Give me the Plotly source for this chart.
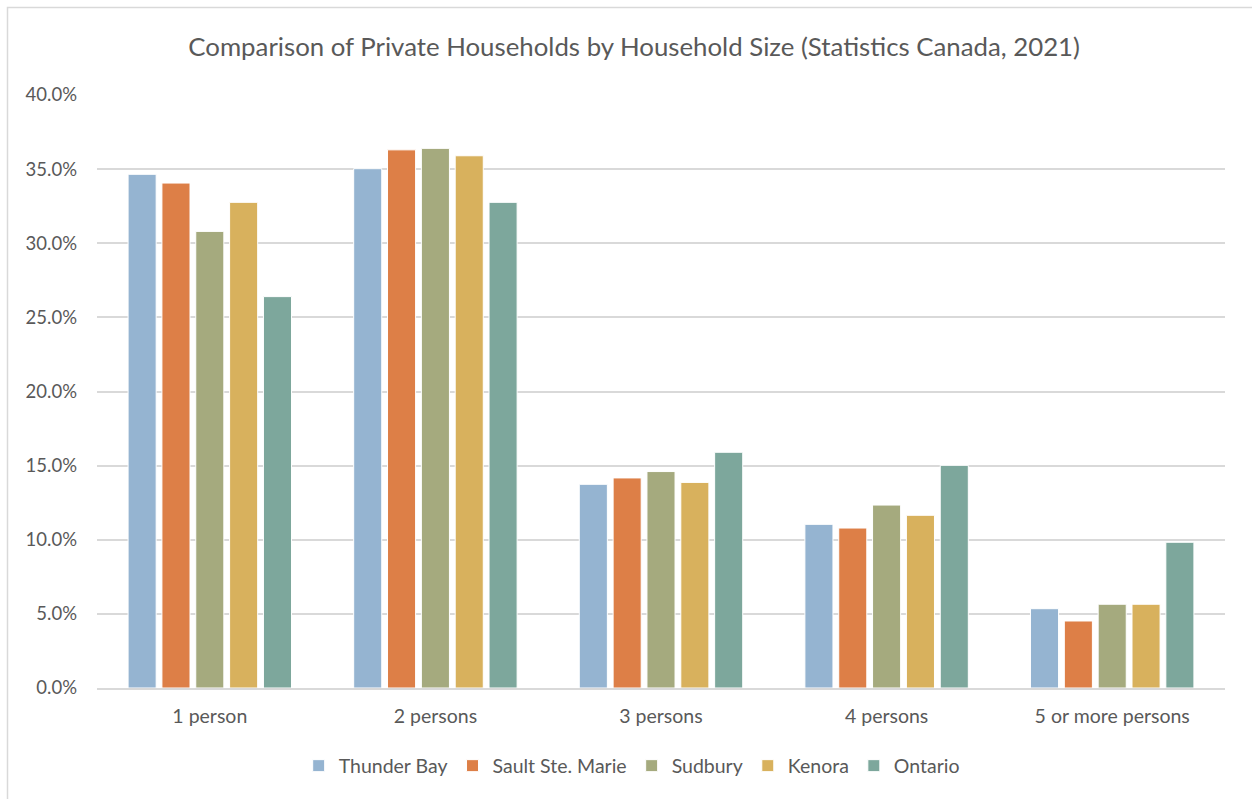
import plotly.graph_objects as go

categories = ["1 person", "2 persons", "3 persons", "4 persons", "5 or more persons"]
thunder_bay = [0.3465, 0.3503, 0.1374, 0.1104, 0.0535]
sault_ste_marie = [0.3406, 0.3630, 0.1417, 0.1079, 0.0452]
sudbury = [0.3080, 0.3640, 0.1460, 0.1234, 0.0565]
kenora = [0.3276, 0.3590, 0.1387, 0.1165, 0.0565]
ontario = [0.2640, 0.3276, 0.1590, 0.1502, 0.0983]

series_names = ["Thunder Bay", "Sault Ste. Marie", "Sudbury", "Kenora", "Ontario"]
series_values = [thunder_bay, sault_ste_marie, sudbury, kenora, ontario]
colors = ["#95B4D1", "#DD7F47", "#A5AA7E", "#D8B15D", "#7DA79C"]

tick_vals = [0, 0.05, 0.10, 0.15, 0.20, 0.25, 0.30, 0.35, 0.40]

fig = go.Figure()
for name, vals, col in zip(series_names, series_values, colors):
    fig.add_trace(go.Bar(
        x=categories, y=vals, name=name,
        marker=dict(color=col, line=dict(color="white", width=1)),
    ))

FONT = "Lato, 'Open Sans', sans-serif"
fig.update_layout(
    width=1252, height=799,
    margin=dict(l=97, r=27, t=95, b=111),
    paper_bgcolor="white", plot_bgcolor="white",
    barmode="group", bargap=0.25, bargroupgap=0.17,
    title=dict(text="Comparison of Private Households by Household Size (Statistics Canada, 2021)",
               x=0.5065, xanchor="center", y=0.941, yanchor="middle",
               font=dict(family=FONT, size=25.8, color="#595959")),
    font=dict(family=FONT, size=19, color="#595959"),
    xaxis=dict(showgrid=False, showline=True, linecolor="#D9D9D9", linewidth=2,
               ticks="", ticklabelstandoff=10,
               tickfont=dict(size=19.5, color="#595959")),
    yaxis=dict(range=[0, 0.40], tickvals=tick_vals, tickformat=".1%",
               showgrid=True, gridcolor="#D9D9D9", gridwidth=1.5,
               zeroline=False, showline=False, ticks="", ticklen=0,
               ticklabelstandoff=19,
               tickfont=dict(size=18.5, color="#595959")),
    legend=dict(orientation="h", x=0.474, xanchor="center", y=-0.1315, yanchor="middle",
                font=dict(size=19.5, color="#595959"), itemwidth=30,
                traceorder="normal"),
    showlegend=True,
    shapes=[dict(type="rect", xref="paper", yref="paper",
                 x0=(7.5 - 97) / 1128, x1=(1262 - 97) / 1128,
                 y0=(688 - 810) / 593, y1=(688 - 7.5) / 593,
                 line=dict(color="#D9D9D9", width=1.5), fillcolor="rgba(0,0,0,0)",
                 layer="below")],
)

fig.write_html("out.html")
